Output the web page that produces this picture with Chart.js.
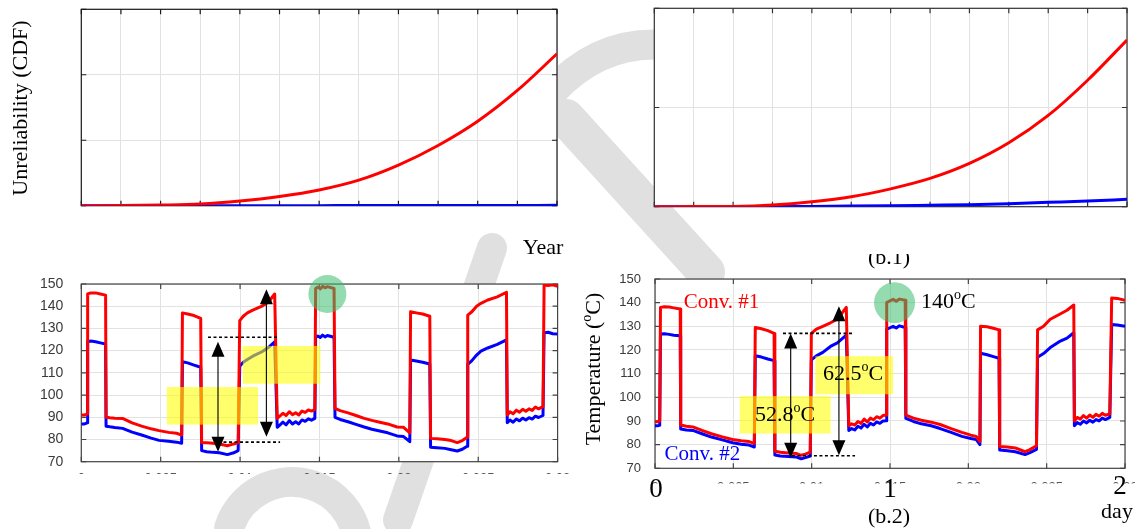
<!DOCTYPE html>
<html>
<head>
<meta charset="utf-8">
<script src="https://cdn.jsdelivr.net/npm/chart.js@4.4.1/dist/chart.umd.min.js"></script>
<style>
  html, body { margin: 0; padding: 0; background: #fff; }
  #page { position: relative; width: 1135px; height: 529px; overflow: hidden; }
  canvas { position: absolute; }
</style>
</head>
<body>
<div id="page">
  <canvas id="mark" width="1135" height="529" style="left:0;top:0"></canvas>
  <canvas id="cdfA" width="570" height="262" style="left:0;top:0"></canvas>
  <canvas id="cdfB" width="565" height="254" style="left:570px;top:0"></canvas>
  <canvas id="tempA" width="570" height="212" style="left:0;top:262px"></canvas>
  <canvas id="tempB" width="565" height="275" style="left:570px;top:254px"></canvas>
</div>
<script>
// ---- data ----
const years = [0, 1, 2, 3, 4, 5, 6, 7, 8, 9, 10, 11, 12];
const cdfConv1A = [0, 0.003, 0.01, 0.025, 0.07, 0.14, 0.24, 0.39, 0.62, 0.92, 1.29, 1.76, 2.32];
const cdfConv2A = [0, 0, 0, 0, 0, 0.001, 0.001, 0.002, 0.002, 0.003, 0.003, 0.004, 0.005];
const cdfConv1B = [0, 0.001, 0.003, 0.017, 0.05, 0.10, 0.18, 0.285, 0.436, 0.644, 0.92, 1.275, 1.68];
const cdfConv2B = [0, 0, 0.001, 0.002, 0.003, 0.006, 0.01, 0.015, 0.02, 0.03, 0.044, 0.058, 0.074];

const tempTicks = ['0', '0.005', '0.01', '0.015', '0.02', '0.025', '0.03'];

// time in thousandths of the axis unit
const timeA = [0, 0.2, 0.38, 0.40, 0.6, 0.9, 1.2, 1.53, 1.56, 1.8, 2.1, 2.6, 3.2, 3.8, 4.4, 4.9, 5.5, 6.0, 6.32,
  6.37, 6.7, 7.1, 7.52, 7.58, 7.9, 8.3, 8.7, 9.2, 9.6, 9.88, 9.98, 10.2, 10.46, 10.8, 11.38, 11.8, 12.18,
  12.34, 12.5, 12.7, 12.9, 13.1, 13.3, 13.5, 13.7, 13.9, 14.1, 14.3, 14.5, 14.71, 14.76, 14.9, 15.05, 15.2, 15.35, 15.5, 15.92,
  15.98, 16.3, 16.8, 17.3, 17.82, 18.3, 18.8, 19.3, 19.89, 20.3, 20.69, 20.74, 21.1, 21.5, 21.95,
  22.0, 22.4, 22.9, 23.3, 23.68, 24.0, 24.3, 24.34, 24.6, 24.9, 25.17, 25.6, 26.2, 26.78,
  26.83, 27.0, 27.2, 27.4, 27.6, 27.8, 28.0, 28.2, 28.4, 28.6, 28.8, 29.08, 29.15, 29.4, 29.7, 30.0];
const conv1A = [91, 91, 91.5, 145.5, 146, 146, 145.5, 145, 90, 89.8, 89.6, 89.5, 87.5, 86, 84.8, 84, 83.2, 82.8, 82,
  137, 136.5, 135.8, 134.5, 78.5, 78.5, 78.3, 78, 77.2, 78, 78.5, 133.5, 135.5, 137, 138.2, 140, 142, 145.5,
  89.5, 90.5, 91.8, 90.8, 92.5, 91.2, 92, 91, 92.8, 92.2, 93.3, 92.8, 93.5, 148, 148.6, 147.8, 149, 148.3, 148.8, 148,
  94, 93, 92, 90.8, 89.5, 88.6, 87.8, 87, 85.6, 85.5, 83, 137.5, 137, 136.5, 135.5,
  80.5, 80.3, 80, 79.5, 78.6, 79.5, 81, 136, 137.5, 140, 141.3, 142.8, 144.2, 146.3,
  91, 92.5, 91.6, 93.2, 92.3, 93.6, 92.7, 93.8, 93.1, 94.6, 93.8, 94.8, 149.5, 149.3, 149.6, 149];
const conv2A = [87, 87, 87.5, 124, 124.3, 124, 123.5, 123, 86, 85.7, 85.4, 85, 83.3, 82, 80.6, 79.6, 79.2, 78.8, 78.3,
  115, 114.5, 113.5, 112.5, 75, 74.5, 74.2, 74, 73.2, 74, 75, 113, 114.8, 116, 117.5, 119.5, 121.5, 124,
  85.5, 86.5, 87.8, 86.6, 88.5, 87, 88, 87, 88.8, 88.2, 89.3, 88.7, 89.5, 126, 126.6, 125.9, 127, 126.2, 126.8, 126,
  90, 89, 88, 86.8, 85.6, 84.6, 83.8, 83, 81.6, 81.3, 79, 115.8, 115.3, 114.8, 114,
  76.5, 76.3, 76, 75.4, 74.8, 75.6, 77, 113.8, 115.5, 118, 119.8, 121.2, 122.8, 124.8,
  87.5, 88.8, 87.8, 89.2, 88.4, 89.6, 88.8, 89.8, 89.2, 90.5, 89.9, 90.8, 128, 128.3, 127.6, 127.5];

const timeB = [0, 0.15, 0.3, 0.35, 0.6, 0.9, 1.2, 1.61, 1.64, 2.0, 2.42, 3.0, 3.6, 4.3, 4.95, 5.5, 6.0, 6.34,
  6.40, 6.8, 7.2, 7.6, 7.65, 8.0, 8.5, 9.0, 9.33, 9.6, 9.91, 9.98, 10.3, 10.71, 11.2, 11.64, 12.21,
  12.37, 12.55, 12.75, 12.95, 13.15, 13.35, 13.55, 13.75, 13.95, 14.15, 14.35, 14.55, 14.75, 14.79, 15.0, 15.2, 15.4, 15.6, 15.97,
  16.01, 16.5, 17.0, 17.63, 18.2, 18.9, 19.59, 20.16, 20.5, 20.74, 20.78, 21.2, 21.6, 21.96,
  22.0, 22.5, 23.0, 23.62, 23.9, 24.35, 24.42, 24.8, 25.23, 25.8, 26.3, 26.73,
  26.77, 26.95, 27.15, 27.35, 27.55, 27.75, 27.95, 28.15, 28.35, 28.55, 28.75, 29.03, 29.15, 29.5, 30.0];
const conv1B = [89.7, 89.7, 90, 138, 138.3, 138.2, 137.8, 137.3, 88.3, 87.8, 87.5, 86, 84.6, 83.3, 82.2, 81.6, 81.3, 80.5,
  129.5, 129, 128.2, 127, 77.2, 76.8, 76.5, 76.3, 75.5, 76, 76.8, 127, 128.8, 130, 131.5, 133, 138,
  88, 88.8, 88.3, 89.8, 89, 90.8, 89.6, 91.2, 90.5, 91.8, 91.2, 92.3, 92.5, 140, 140.8, 141.4, 140.6, 141.5, 141,
  92.5, 91.2, 90.3, 89.5, 88.5, 86.8, 85.2, 84, 83.5, 81.3, 130, 129.8, 129.2, 128.5,
  79.2, 79, 78.6, 77, 77.8, 79.5, 128.5, 130, 133, 135, 136.8, 139,
  90, 91.5, 90.8, 92.3, 91.2, 92.5, 91.5, 92.8, 92, 93.2, 92.4, 93, 142, 141.8, 141];
const conv2B = [88, 88, 88.2, 126.8, 126.9, 126.6, 126.2, 126, 86.6, 86.2, 86, 84.6, 83.2, 82, 80.8, 80.2, 79.8, 79,
  117.6, 117, 116.2, 115.5, 75.6, 75.2, 75, 74.8, 74, 74.5, 75.2, 115.8, 117.5, 119, 121.5, 123, 126.3,
  86, 86.8, 86.2, 87.8, 87, 88.6, 87.5, 89, 88.3, 89.6, 89, 90, 90.1, 128.7, 129.4, 130, 129.3, 130.2, 129.5,
  91.1, 89.8, 88.8, 88, 86.8, 85.2, 83.5, 82.6, 82.2, 80, 118.6, 118, 117.2, 116.5,
  77.7, 77.4, 77, 75.8, 76.5, 78, 116.9, 118.5, 121, 123.5, 125, 127.3,
  88, 89.3, 88.6, 90, 89.2, 90.3, 89.5, 90.6, 90, 91.2, 90.6, 91.5, 130.8, 130.6, 130];

const RED = '#ff0000', BLUE = '#0000ff';
const SERIF = '"Liberation Serif", "Times New Roman", serif';
const SANS = '"Liberation Sans", Arial, sans-serif';

// faint grey watermark strokes behind the figure
(function () {
  const c = document.getElementById('mark').getContext('2d');
  c.strokeStyle = '#e0e0e0';
  c.lineCap = 'round';
  c.lineWidth = 30;
  c.beginPath(); c.moveTo(552, 92); c.quadraticCurveTo(600, 40, 665, 45); c.stroke();
  c.lineWidth = 38;
  c.beginPath(); c.moveTo(566, 118); c.lineTo(706, 272); c.stroke();
  c.lineWidth = 30;
  c.beginPath(); c.moveTo(492, 248); c.lineTo(398, 520); c.stroke();
  c.lineWidth = 30;
  c.beginPath(); c.arc(292, 548, 66, Math.PI * 1.1, Math.PI * 1.95); c.stroke();
})();

function pts(xs, ys) { return xs.map((x, i) => ({ x: x, y: ys[i] })); }

// text with superscript parts: parts = [[text, isSup], ...]
function richText(ctx, parts, x, y, size, color, align) {
  ctx.save();
  ctx.fillStyle = color;
  ctx.textBaseline = 'middle';
  ctx.textAlign = 'left';
  const fnt = s => (s ? Math.round(size * 0.62) : size) + 'px ' + SERIF;
  let w = 0;
  parts.forEach(p => { ctx.font = fnt(p[1]); w += ctx.measureText(p[0]).width; });
  let cx = align === 'center' ? x - w / 2 : (align === 'right' ? x - w : x);
  parts.forEach(p => {
    ctx.font = fnt(p[1]);
    ctx.fillText(p[0], cx, p[1] ? y - size * 0.3 : y);
    cx += ctx.measureText(p[0]).width;
  });
  ctx.restore();
}

function arrowV(ctx, x, yTop, yBot) {
  ctx.save();
  ctx.strokeStyle = '#111';
  ctx.lineWidth = 1.2;
  ctx.beginPath();
  ctx.moveTo(x, yTop + 10);
  ctx.lineTo(x, yBot - 10);
  ctx.stroke();
  ctx.fillStyle = '#000';
  ctx.beginPath();
  ctx.moveTo(x, yTop); ctx.lineTo(x - 6.5, yTop + 15); ctx.lineTo(x + 6.5, yTop + 15); ctx.closePath();
  ctx.moveTo(x, yBot); ctx.lineTo(x - 6.5, yBot - 15); ctx.lineTo(x + 6.5, yBot - 15); ctx.closePath();
  ctx.fill();
  ctx.restore();
}

const decor = {
  id: 'decor',
  beforeDraw(chart, args, o) {
    const c = chart.ctx, a = chart.chartArea;
    c.save();
    c.fillStyle = '#fff';
    c.fillRect(a.left, a.top, a.right - a.left, a.bottom - a.top);
    c.restore();
    if (o.clipY) {
      c.save();
      c.beginPath();
      c.rect(0, 0, chart.width, o.clipY);
      c.clip();
    }
  },
  beforeDatasetsDraw(chart, args, o) {
    const c = chart.ctx, a = chart.chartArea, sx = chart.scales.x, sy = chart.scales.y;
    c.save();
    c.strokeStyle = o.frame || '#222';
    c.lineWidth = 1.2;
    c.strokeRect(a.left, a.top, a.right - a.left, a.bottom - a.top);
    c.beginPath();
    sx.ticks.forEach(t => {
      const p = sx.getPixelForValue(t.value);
      c.moveTo(p, a.bottom); c.lineTo(p, a.bottom - 5);
      c.moveTo(p, a.top); c.lineTo(p, a.top + 5);
    });
    sy.ticks.forEach(t => {
      const p = sy.getPixelForValue(t.value);
      c.moveTo(a.left, p); c.lineTo(a.left + 5, p);
      c.moveTo(a.right, p); c.lineTo(a.right - 5, p);
    });
    c.stroke();
    c.restore();
  },
  afterDatasetsDraw(chart, args, o) {
    const c = chart.ctx, sx = chart.scales.x, sy = chart.scales.y;
    const X = v => sx.getPixelForValue(v), Y = v => sy.getPixelForValue(v);
    c.save();
    (o.boxes || []).forEach(b => {
      c.fillStyle = 'rgba(255,255,0,0.58)';
      c.fillRect(X(b[0]), Y(b[3]), X(b[1]) - X(b[0]), Y(b[2]) - Y(b[3]));
    });
    (o.circles || []).forEach(k => {
      c.fillStyle = 'rgba(60,190,110,0.55)';
      c.beginPath();
      c.arc(X(k[0]), Y(k[1]), k[2], 0, Math.PI * 2);
      c.fill();
    });
    c.strokeStyle = '#000';
    c.lineWidth = 1.6;
    c.setLineDash([3, 2.5]);
    (o.dashes || []).forEach(d => {
      c.beginPath();
      c.moveTo(X(d[0]), Y(d[2]));
      c.lineTo(X(d[1]), Y(d[2]));
      c.stroke();
    });
    c.setLineDash([]);
    (o.arrows || []).forEach(r => arrowV(c, X(r[0]), Y(r[1]), Y(r[2])));
    (o.notes || []).forEach(n => richText(c, n.parts, X(n.x), Y(n.y), n.size, n.color, n.align));
    c.restore();
  },
  afterDraw(chart, args, o) {
    const c = chart.ctx;
    if (o.clipY) c.restore();
    (o.labels || []).forEach(l => {
      c.save();
      c.translate(l.x, l.y);
      if (l.rot) c.rotate(-Math.PI / 2);
      richText(c, l.parts, 0, 0, l.size, l.color || '#000', 'center');
      c.restore();
    });
  }
};

function makeChart(id, area, datasets, xOpt, yOpt, decorOpt) {
  const cv = document.getElementById(id);
  const leftW = area[0], bottomH = cv.height - area[3];
  return new Chart(cv, {
    type: 'line',
    data: { datasets: datasets },
    plugins: [decor],
    options: {
      responsive: false,
      animation: false,
      events: [],
      layout: { padding: { left: 0, top: area[1], right: cv.width - area[2], bottom: 0 } },
      plugins: { legend: { display: false }, tooltip: { enabled: false }, decor: decorOpt },
      elements: { point: { radius: 0 } },
      scales: {
        x: Object.assign({
          type: 'linear',
          border: { display: false },
          grid: { color: '#e2e2e2', drawTicks: false, lineWidth: 1 },
          afterFit: s => { s.height = bottomH; s.paddingLeft = 0; s.paddingRight = 0; }
        }, xOpt),
        y: Object.assign({
          type: 'linear',
          border: { display: false },
          grid: { color: '#e2e2e2', drawTicks: false, lineWidth: 1 },
          afterFit: s => { s.width = leftW; s.paddingTop = 0; s.paddingBottom = 0; }
        }, yOpt)
      }
    }
  });
}

function cdfSets(red, blue) {
  return [
    { data: pts(years, red), borderColor: RED, borderWidth: 3, cubicInterpolationMode: 'monotone' },
    { data: pts(years, blue), borderColor: BLUE, borderWidth: 3, cubicInterpolationMode: 'monotone' }
  ];
}
function tempSets(t, red, blue) {
  return [
    { data: pts(t, red), borderColor: RED, borderWidth: 3, borderJoinStyle: 'round' },
    { data: pts(t, blue), borderColor: BLUE, borderWidth: 3, borderJoinStyle: 'round' }
  ];
}

const yearAxis = { min: 0, max: 12, ticks: { display: false, stepSize: 1 } };

// (a) unreliability, left
makeChart('cdfA', [81.3, 9.3, 557, 205.7], cdfSets(cdfConv1A, cdfConv2A), yearAxis,
  { min: 0, max: 3, ticks: { display: false, stepSize: 1 } },
  { frame: '#1a1a1a', labels: [
    { parts: [['Unreliability (CDF)', false]], x: 21, y: 108, size: 22, rot: true },
    { parts: [['Year', false]], x: 543, y: 248, size: 22 }
  ] });

// (b.1) unreliability, right
makeChart('cdfB', [84.3, 8.3, 557, 206.7], cdfSets(cdfConv1B, cdfConv2B), yearAxis,
  { min: 0, max: 2, ticks: { display: false, stepSize: 1 } },
  { frame: '#333' });

const tempY = (pad, size) => ({ min: 70, max: 150,
  ticks: { stepSize: 10, padding: pad, color: '#3a3a3a', font: { family: SANS, size: size } } });
const tempX = (pad, size) => ({ min: 0, max: 30,
  ticks: { stepSize: 5, padding: pad, color: '#555', maxRotation: 0, autoSkip: false, font: { family: SANS, size: size },
    callback: (v, i) => tempTicks[i] } });

// temperature profile, left
makeChart('tempA', [81.3, 22, 557.6, 199.7], tempSets(timeA, conv1A, conv2A), tempX(9, 13), tempY(18, 14),
  { frame: '#444',
    boxes: [[5.39, 11.13, 86.7, 103.6], [10.17, 15.06, 105.1, 122.1]],
    circles: [[15.5, 145.5, 19]],
    dashes: [[7.98, 12.45, 126], [8.61, 12.52, 78.8]],
    arrows: [[8.61, 124, 74.5], [11.66, 147.6, 81.2]] });

// (b.2) temperature profile, right
makeChart('tempB', [85, 25, 555, 214.3], tempSets(timeB, conv1B, conv2B), tempX(11, 13), tempY(14, 13),
  { frame: '#444', clipY: 229.5,
    boxes: [[5.41, 11.21, 84.7, 100.5], [10.24, 15.19, 101.3, 117.4]],
    circles: [[15.29, 140, 20.5]],
    dashes: [[8.17, 12.73, 127], [8.74, 12.77, 75.3]],
    arrows: [[8.66, 127, 74.5], [11.74, 138.5, 75.5]],
    notes: [
      { parts: [['52.8', false], ['o', true], ['C', false]], x: 8.3, y: 92.4, size: 22, color: '#000', align: 'center' },
      { parts: [['62.5', false], ['o', true], ['C', false]], x: 12.64, y: 109.8, size: 22, color: '#000', align: 'center' },
      { parts: [['Conv. #1', false]], x: 1.83, y: 140.1, size: 21, color: RED, align: 'left' },
      { parts: [['Conv. #2', false]], x: 0.61, y: 75.8, size: 21, color: BLUE, align: 'left' },
      { parts: [['140', false], ['o', true], ['C', false]], x: 16.98, y: 140.3, size: 22, color: '#000', align: 'left' }
    ],
    labels: [
      { parts: [['Temperature (', false], ['o', true], ['C)', false]], x: 24, y: 115, size: 22, rot: true },
      { parts: [['0', false]], x: 86, y: 236, size: 27 },
      { parts: [['1', false]], x: 320, y: 236, size: 27 },
      { parts: [['2', false]], x: 550, y: 233, size: 27 },
      { parts: [['day', false]], x: 547, y: 258, size: 22 },
      { parts: [['(b.2)', false]], x: 319, y: 263, size: 22 },
      { parts: [['(b.1)', false]], x: 319, y: 4, size: 22 }
    ] });
</script>
</body>
</html>
